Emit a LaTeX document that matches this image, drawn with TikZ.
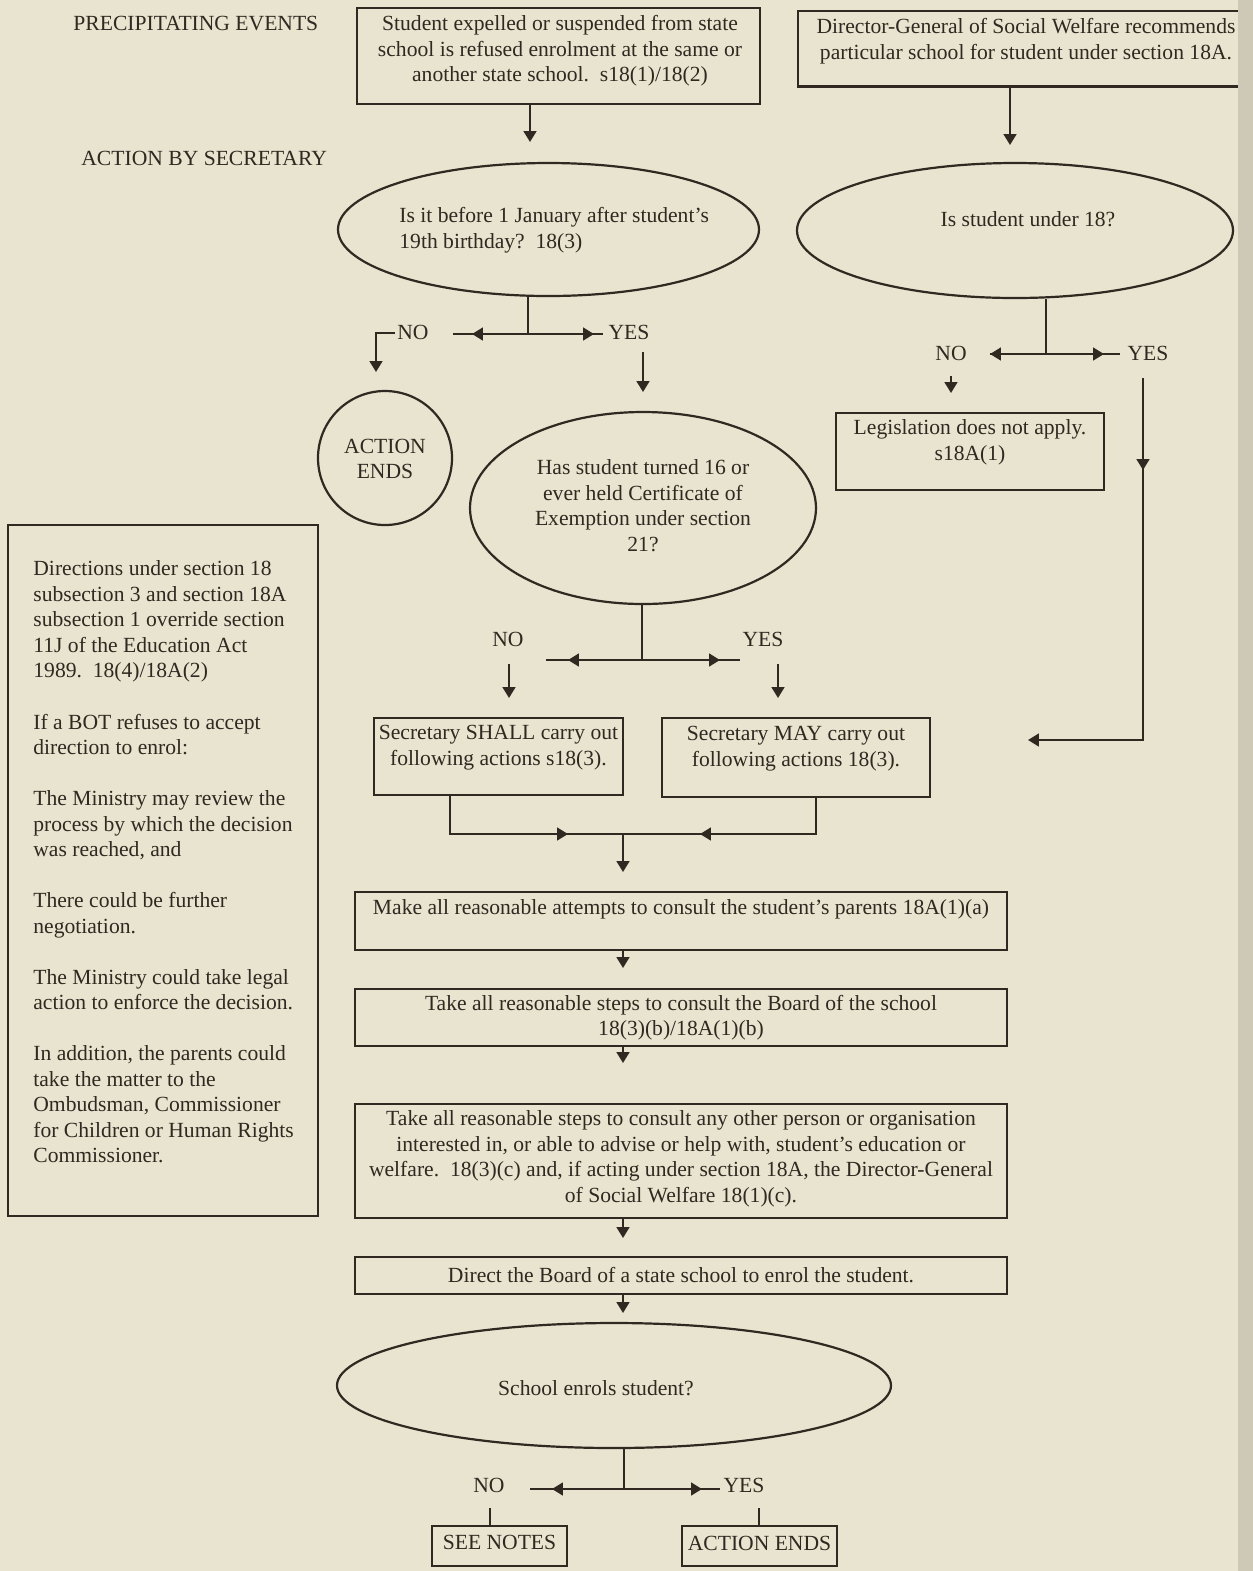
\documentclass[tikz,border=0pt]{standalone}
\usepackage{fontspec}
\setmainfont{Liberation Serif}
\usetikzlibrary{arrows.meta,shapes.geometric}
\definecolor{paper}{RGB}{233,228,207}
\definecolor{ink}{RGB}{48,40,33}
\definecolor{edgestrip}{RGB}{206,201,183}
\begin{document}
\begin{tikzpicture}[x=0.5pt,y=-0.5pt,
  ln/.style={draw=ink, line width=1.1pt},
  tip/.style={-{Triangle[width=6.3pt,length=5.4pt]}},
  box/.style={draw=ink, line width=1.1pt, rectangle, inner sep=0pt},
  oval/.style={draw=ink, line width=1.1pt, ellipse, inner sep=0pt},
  txt/.style={text=ink, inner sep=0pt, align=center, yshift=-1pt, font=\fontsize{10.8}{12.75}\selectfont},
  lbl/.style={text=ink, inner sep=0pt, yshift=-1pt, font=\fontsize{10.8}{12.75}\selectfont}]
\useasboundingbox (0,0) rectangle (1253,1571);
\fill[paper] (0,0) rectangle (1253,1571);

% headings
\node[lbl, anchor=west] (h1) at (73,22) {PRECIPITATING EVENTS};
\node[lbl, anchor=west] (h2) at (81,156) {ACTION BY SECRETARY};

% top boxes
\node[box, minimum width=201.5pt, minimum height=48pt] (b1) at (558.5,56) {};
\node[txt] (t1) at (560,49) {Student expelled or suspended from state\\school is refused enrolment at the same or\\another state school.\ \ s18(1)/18(2)};
\node[inner sep=0pt, minimum width=221pt, minimum height=37.5pt] (b2) at (1019,48.5) {};
\draw[ln] (b2.north east) -- (b2.north west) -- (b2.south west) -- (b2.south east);
\node[txt] (t2) at (1026,39) {Director-General of Social Welfare recommends\\particular school for student under section 18A.};

\coordinate (a1) at (530,142);
\draw[ln,tip] (a1 |- b1.south) -- (a1);
\coordinate (a2) at (1010,145);
\draw[ln,tip] (a2 |- b2.south) -- (a2);

% ellipse 1
\node[oval, minimum width=210.5pt, minimum height=66.5pt] (e1) at (548.5,229.5) {};
\node[txt, align=left, anchor=west] (te1) at (399,228) {Is it before 1 January after student's\\19th birthday?\ \ 18(3)};
% ellipse 2
\node[oval, minimum width=218pt, minimum height=67.5pt] (e2) at (1015,230.5) {};
\node[txt] (te2) at (1028,217) {Is student under 18?};

% branch 1
\coordinate (j1) at (528,334);
\draw[ln] (j1 |- e1.south) -- (j1);
\draw[ln] (453,334) -- (603,334);
\draw[ln,tip] (j1) -- (472,334);
\draw[ln,tip] (j1) -- (594,334);
\node[lbl] (no1) at (413,330) {NO};
\node[lbl] (yes1) at (629,330) {YES};
\draw[ln,tip] (395,333) -- (376,333) -- (376,372);
\draw[ln,tip] (643,352) -- (643,392);

% action ends circle
\node[draw=ink, line width=1.1pt, circle, inner sep=0pt, minimum size=67pt] (c1) at (385,458) {};
\node[txt] (tc1) at (385,457) {ACTION\\ENDS};

% ellipse 3
\node[oval, minimum width=173pt, minimum height=96pt] (e3) at (643,508) {};
\node[txt] (te3) at (643,503.5) {Has student turned 16 or\\ever held Certificate of\\Exemption under section\\21?};

% branch 2
\coordinate (j2) at (1046,354);
\draw[ln] (j2 |- e2.south) -- (j2);
\draw[ln] (990,354) -- (1120,354);
\draw[ln,tip] (j2) -- (990,354);
\draw[ln,tip] (j2) -- (1104,354);
\node[lbl] (no2) at (951,351) {NO};
\node[lbl] (yes2) at (1148,351) {YES};
\draw[ln,tip] (951,376) -- (951,393);
\node[box, minimum width=134pt, minimum height=38.5pt] (leg) at (970,451.5) {};
\node[txt] (tleg) at (970,440.5) {Legislation does not apply.\\s18A(1)};
\coordinate (y2a) at (1143,378);
\coordinate (y2b) at (1028,740);
\draw[ln,tip] (y2a) -- (1143,740) -- (y2b);
\draw[ln,tip] (y2a) -- (1143,470);

% branch 3
\coordinate (j3) at (642,660);
\draw[ln] (j3 |- e3.south) -- (j3);
\draw[ln] (546,660) -- (740,660);
\draw[ln,tip] (j3) -- (568,660);
\draw[ln,tip] (j3) -- (720,660);
\node[lbl] (no3) at (508,637) {NO};
\node[lbl] (yes3) at (763,637) {YES};
\draw[ln,tip] (509,664) -- (509,698);
\draw[ln,tip] (778,664) -- (778,698);

\node[box, minimum width=124.5pt, minimum height=38.5pt] (shall) at (498.5,756.5) {};
\node[txt] (tshall) at (498.5,745.5) {Secretary SHALL carry out\\following actions s18(3).};
\node[box, minimum width=134pt, minimum height=39.5pt] (may) at (796,757.5) {};
\node[txt] (tmay) at (796,746.5) {Secretary MAY carry out\\following actions 18(3).};

% merge
\coordinate (m1) at (450,834);
\coordinate (m2) at (816,834);
\coordinate (m3) at (623,834);
\draw[ln] (m1 |- shall.south) -- (m1) -- (m2) -- (m2 |- may.south);
\draw[ln,tip] (m1) -- (568,834);
\draw[ln,tip] (m2) -- (700,834);
\draw[ln,tip] (m3) -- (623,872);

% sequence boxes
\node[box, minimum width=326pt, minimum height=29pt] (make) at (681,921) {};
\node[txt] (tmake) at (681,907) {Make all reasonable attempts to consult the student's parents 18A(1)(a)};
\node[box, minimum width=326pt, minimum height=28.5pt] (board) at (681,1017.5) {};
\node[txt] (tboard) at (681,1015.5) {Take all reasonable steps to consult the Board of the school\\18(3)(b)/18A(1)(b)};
\node[box, minimum width=326pt, minimum height=57pt] (other) at (681,1161) {};
\node[txt] (tother) at (681,1157) {Take all reasonable steps to consult any other person or organisation\\interested in, or able to advise or help with, student's education or\\welfare.\ \ 18(3)(c) and, if acting under section 18A, the Director-General\\of Social Welfare 18(1)(c).};
\node[box, minimum width=326pt, minimum height=18.5pt] (direct) at (681,1275.5) {};
\node[txt] (tdirect) at (681,1273) {Direct the Board of a state school to enrol the student.};

\coordinate (s1) at (623,968);
\coordinate (s2) at (623,1063);
\coordinate (s3) at (623,1238);
\coordinate (s4) at (623,1313);
\draw[ln,tip] (s1 |- make.south) -- (s1);
\draw[ln,tip] (s2 |- board.south) -- (s2);
\draw[ln,tip] (s3 |- other.south) -- (s3);
\draw[ln,tip] (s4 |- direct.south) -- (s4);

% ellipse 4
\node[oval, minimum width=277pt, minimum height=62.5pt] (e4) at (614,1385.5) {};
\node[txt] (te4) at (596,1386) {School enrols student?};

% branch 4
\coordinate (j4) at (624,1489);
\draw[ln] (j4 |- e4.south) -- (j4);
\draw[ln] (530,1489) -- (720,1489);
\draw[ln,tip] (j4) -- (552,1489);
\draw[ln,tip] (j4) -- (702,1489);
\node[lbl] (no4) at (489,1483) {NO};
\node[lbl] (yes4) at (744,1483) {YES};
\node[box, minimum width=67.5pt, minimum height=20pt] (see) at (499.5,1546) {};
\node[txt] (tsee) at (499.5,1540) {SEE NOTES};
\node[box, minimum width=77.5pt, minimum height=20pt] (ae) at (759.5,1546) {};
\node[txt] (tae) at (759.5,1541) {ACTION ENDS};
\coordinate (k1) at (490,1508);
\coordinate (k2) at (759,1508);
\draw[ln] (k1) -- (k1 |- see.north);
\draw[ln] (k2) -- (k2 |- ae.north);

% notes box
\node[box, minimum width=155pt, minimum height=345.5pt] (notes) at (163,870.5) {};
\node[txt, align=left, anchor=west] (tnotes) at (33,860) {Directions under section 18\\subsection 3 and section 18A\\subsection 1 override section\\11J of the Education Act\\1989.\ \ 18(4)/18A(2)\\[12.78pt]
If a BOT refuses to accept\\direction to enrol:\\[12.78pt]
The Ministry may review the\\process by which the decision\\was reached, and\\[12.78pt]
There could be further\\negotiation.\\[12.78pt]
The Ministry could take legal\\action to enforce the decision.\\[12.78pt]
In addition, the parents could\\take the matter to the\\Ombudsman, Commissioner\\for Children or Human Rights\\Commissioner.};

% page edge strip
\fill[edgestrip] (1238,0) rectangle (1253,1571);
\end{tikzpicture}
\end{document}
